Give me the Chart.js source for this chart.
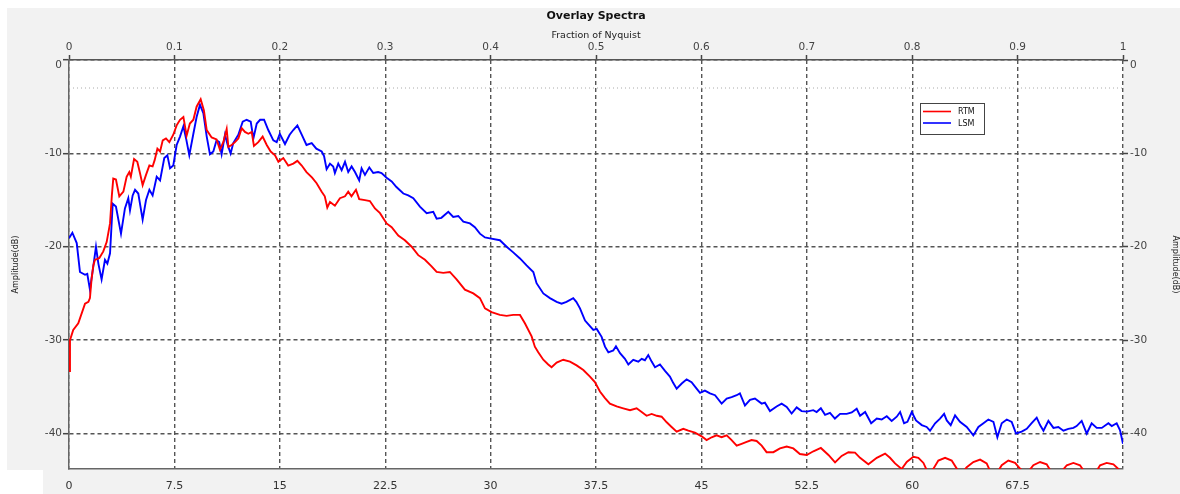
<!DOCTYPE html>
<html><head><meta charset="utf-8">
<script src="https://cdn.jsdelivr.net/npm/chart.js@4.4.1/dist/chart.umd.min.js"></script>
<style>html,body{margin:0;padding:0;background:#fff;}canvas{display:block;}</style>
</head><body>
<canvas id="c" width="1180" height="494"></canvas>
<script>
const chartTitle = 'Overlay Spectra';
const topAxisTitle = 'Fraction of Nyquist';
const yAxisTitle = 'Amplitude(dB)';
const seriesNames = ['RTM', 'LSM'];
const seriesColors = ['#ff0000', '#0000ff'];
const freqRange = [0, 75];
const nyquistRange = [0, 1];
const dbRange = [-43.8, 0];
const refLevelDb = -3;
const freqTicks = [0, 7.5, 15, 22.5, 30, 37.5, 45, 52.5, 60, 67.5, 75];
const freqTickLabels = ['0', '7.5', '15', '22.5', '30', '37.5', '45', '52.5', '60', '67.5', ''];
const nyquistTicks = [0, 0.1, 0.2, 0.3, 0.4, 0.5, 0.6, 0.7, 0.8, 0.9, 1];
const nyquistTickLabels = ['0', '0.1', '0.2', '0.3', '0.4', '0.5', '0.6', '0.7', '0.8', '0.9', '1'];
const dbTicks = [-40, -30, -20, -10, 0];

// [frequency (Hz), amplitude (dB)]
const rtmSpectrum = [[0,-33.3],[0.07,-30.0],[0.3,-28.9],[0.66,-28.2],[1.14,-26.1],[1.38,-25.9],[1.49,-25.5],[1.61,-23.4],[1.73,-22.0],[1.85,-21.4],[2.02,-21.3],[2.16,-21.2],[2.44,-20.5],[2.68,-19.5],[2.92,-17.5],[3.05,-14.5],[3.15,-12.7],[3.34,-12.8],[3.58,-14.6],[3.87,-14.1],[4.1,-12.5],[4.29,-12.0],[4.4,-12.5],[4.63,-10.6],[4.86,-10.9],[5.05,-12.1],[5.24,-13.4],[5.48,-12.3],[5.72,-11.3],[5.95,-11.4],[6.1,-10.7],[6.29,-9.5],[6.48,-9.8],[6.67,-8.6],[6.9,-8.4],[7.14,-8.8],[7.42,-8.0],[7.66,-7.0],[7.9,-6.4],[8.14,-6.1],[8.37,-8.1],[8.6,-6.8],[8.85,-6.4],[9.08,-5.0],[9.37,-4.2],[9.6,-5.4],[9.8,-7.5],[10.15,-8.3],[10.5,-8.5],[10.74,-9.6],[10.98,-8.8],[11.22,-7.4],[11.34,-9.3],[11.57,-9.1],[11.81,-8.8],[12.05,-8.4],[12.29,-7.3],[12.52,-7.7],[12.76,-7.9],[13.0,-7.7],[13.16,-9.2],[13.47,-8.8],[13.78,-8.2],[14.07,-9.1],[14.35,-9.8],[14.66,-10.2],[14.9,-10.9],[15.25,-10.5],[15.6,-11.3],[15.96,-11.1],[16.25,-10.8],[16.56,-11.3],[16.9,-12.0],[17.3,-12.6],[17.62,-13.2],[17.98,-14.1],[18.2,-14.6],[18.38,-15.8],[18.57,-15.2],[18.92,-15.6],[19.28,-14.8],[19.64,-14.6],[19.87,-14.1],[20.1,-14.6],[20.42,-13.9],[20.65,-14.9],[21.06,-15.0],[21.41,-15.1],[21.77,-15.9],[22.13,-16.4],[22.6,-17.5],[22.96,-17.9],[23.43,-18.8],[23.9,-19.3],[24.38,-20.0],[24.85,-20.9],[25.33,-21.4],[25.8,-22.1],[26.16,-22.7],[26.63,-22.8],[27.1,-22.7],[27.58,-23.5],[28.17,-24.6],[28.77,-25.0],[29.24,-25.5],[29.6,-26.6],[30.07,-27.0],[30.66,-27.3],[31.14,-27.4],[31.61,-27.3],[32.09,-27.3],[32.44,-28.2],[32.92,-29.6],[33.15,-30.7],[33.39,-31.3],[33.75,-32.1],[34.1,-32.6],[34.34,-32.9],[34.7,-32.4],[35.17,-32.1],[35.65,-32.3],[36.12,-32.7],[36.6,-33.2],[37.07,-33.9],[37.42,-34.5],[37.78,-35.5],[38.14,-36.2],[38.49,-36.8],[38.97,-37.1],[39.44,-37.3],[39.92,-37.5],[40.39,-37.3],[40.75,-37.7],[41.1,-38.1],[41.46,-37.9],[41.82,-38.1],[42.17,-38.2],[42.53,-38.8],[42.88,-39.3],[43.24,-39.8],[43.71,-39.5],[44.07,-39.7],[44.54,-39.9],[45.02,-40.3],[45.37,-40.7],[45.73,-40.4],[46.08,-40.2],[46.44,-40.4],[46.8,-40.2],[47.15,-40.7],[47.51,-41.3],[47.86,-41.1],[48.22,-40.9],[48.57,-40.7],[48.93,-40.8],[49.29,-41.3],[49.64,-42.0],[50.12,-42.0],[50.59,-41.6],[51.07,-41.4],[51.54,-41.6],[52.01,-42.2],[52.49,-42.3],[52.97,-41.9],[53.5,-41.55],[54.04,-42.3],[54.51,-43.1],[54.98,-42.4],[55.46,-42.0],[55.93,-42.05],[56.29,-42.6],[56.88,-43.3],[57.48,-42.6],[58.07,-42.15],[58.42,-42.6],[58.78,-43.2],[59.25,-43.8],[59.61,-43.05],[60.08,-42.5],[60.44,-42.6],[60.8,-43.15],[61.15,-44.3],[61.51,-43.76],[61.86,-42.9],[62.34,-42.6],[62.81,-42.9],[63.17,-43.76],[63.52,-44.3],[63.88,-43.6],[64.35,-43.05],[64.83,-42.8],[65.3,-43.2],[65.6,-44.2],[66.0,-44.3],[66.37,-43.4],[66.84,-42.9],[67.32,-43.15],[67.67,-43.76],[68.15,-44.3],[68.62,-43.4],[69.1,-43.05],[69.57,-43.3],[69.93,-44.2],[70.5,-44.3],[71.0,-43.4],[71.47,-43.15],[71.94,-43.4],[72.3,-44.2],[73.0,-44.3],[73.37,-43.4],[73.84,-43.15],[74.32,-43.3],[74.67,-43.8],[75.0,-44.2]];

const lsmSpectrum = [[0,-19.1],[0.24,-18.5],[0.55,-19.6],[0.78,-22.7],[1.14,-23.0],[1.3,-22.9],[1.49,-24.6],[1.73,-22.1],[1.92,-20.0],[2.09,-21.8],[2.32,-23.5],[2.56,-21.4],[2.73,-21.8],[2.92,-20.7],[3.11,-15.4],[3.34,-15.7],[3.7,-18.6],[3.98,-15.9],[4.22,-14.8],[4.34,-16.1],[4.53,-14.5],[4.7,-13.9],[4.93,-14.3],[5.24,-17.1],[5.48,-15.0],[5.72,-13.9],[5.95,-14.5],[6.24,-12.5],[6.48,-12.9],[6.78,-10.5],[7.0,-10.2],[7.19,-11.6],[7.42,-11.3],[7.66,-9.1],[7.9,-8.2],[8.14,-7.1],[8.33,-8.4],[8.56,-10.2],[8.85,-7.9],[9.08,-6.1],[9.32,-4.8],[9.56,-5.7],[9.8,-8.2],[10.03,-10.1],[10.27,-9.8],[10.5,-8.6],[10.69,-8.8],[10.86,-10.1],[11.1,-8.0],[11.29,-9.1],[11.5,-10.0],[11.69,-8.9],[12.05,-8.0],[12.36,-6.6],[12.64,-6.4],[12.93,-6.6],[13.12,-8.4],[13.36,-6.8],[13.6,-6.4],[13.88,-6.4],[14.18,-7.5],[14.54,-8.6],[14.78,-8.8],[15.0,-7.9],[15.37,-9.0],[15.7,-8.0],[15.96,-7.5],[16.25,-7.0],[16.56,-8.0],[16.9,-9.1],[17.27,-8.9],[17.6,-9.5],[17.98,-9.8],[18.15,-10.3],[18.33,-11.7],[18.57,-11.1],[18.8,-11.4],[18.92,-12.1],[19.16,-11.1],[19.4,-11.8],[19.64,-10.9],[19.87,-12.0],[20.11,-11.4],[20.35,-12.0],[20.65,-12.9],[20.82,-11.6],[21.06,-12.3],[21.37,-11.5],[21.65,-12.1],[22.0,-12.0],[22.24,-12.1],[22.6,-12.6],[22.96,-13.0],[23.3,-13.6],[23.79,-14.3],[24.14,-14.5],[24.5,-14.8],[24.97,-15.7],[25.45,-16.4],[25.92,-16.25],[26.16,-17.0],[26.5,-16.9],[26.99,-16.25],[27.34,-16.8],[27.7,-16.7],[28.06,-17.3],[28.53,-17.5],[28.88,-17.9],[29.24,-18.6],[29.6,-19.0],[29.95,-19.1],[30.66,-19.3],[31.14,-20.0],[31.61,-20.6],[32.09,-21.25],[32.56,-22.0],[33.04,-22.7],[33.27,-23.9],[33.75,-25.0],[34.22,-25.5],[34.7,-25.9],[35.05,-26.1],[35.4,-25.9],[35.88,-25.5],[36.1,-25.9],[36.36,-26.6],[36.72,-27.9],[37.07,-28.5],[37.31,-28.9],[37.55,-28.8],[37.9,-29.65],[38.14,-30.7],[38.38,-31.3],[38.73,-31.1],[38.92,-30.65],[39.21,-31.4],[39.56,-32.0],[39.8,-32.6],[40.15,-32.1],[40.51,-32.3],[40.75,-32.0],[40.98,-32.15],[41.22,-31.6],[41.46,-32.3],[41.7,-32.9],[42.05,-32.6],[42.41,-33.3],[42.76,-33.9],[43.0,-34.6],[43.24,-35.2],[43.6,-34.65],[43.95,-34.2],[44.3,-34.5],[44.66,-35.2],[44.9,-35.65],[45.25,-35.4],[45.61,-35.7],[45.97,-35.9],[46.44,-36.8],[46.8,-36.26],[47.15,-36.1],[47.51,-35.9],[47.74,-35.7],[48.1,-37.0],[48.46,-36.4],[48.81,-36.26],[49.29,-36.8],[49.52,-36.7],[49.88,-37.6],[50.35,-37.1],[50.71,-36.8],[51.07,-37.15],[51.42,-37.86],[51.78,-37.2],[52.13,-37.6],[52.5,-37.65],[52.96,-37.5],[53.2,-37.7],[53.5,-37.3],[53.8,-38.0],[54.15,-37.8],[54.5,-38.4],[54.87,-37.9],[55.34,-37.9],[55.7,-37.75],[56.05,-37.35],[56.29,-38.1],[56.65,-37.7],[57.08,-38.9],[57.48,-38.4],[57.83,-38.5],[58.19,-38.15],[58.54,-38.65],[58.9,-38.2],[59.14,-37.7],[59.42,-38.9],[59.66,-38.75],[59.97,-37.7],[60.27,-38.6],[60.68,-39.1],[61.03,-39.3],[61.27,-39.7],[61.63,-38.9],[61.98,-38.4],[62.27,-37.9],[62.46,-38.6],[62.74,-39.1],[63.05,-38.05],[63.4,-38.75],[63.88,-39.3],[64.35,-40.2],[64.71,-39.3],[65.07,-38.9],[65.42,-38.5],[65.78,-38.75],[66.06,-40.4],[66.37,-38.9],[66.73,-38.5],[67.08,-38.75],[67.39,-40.0],[67.79,-39.8],[68.15,-39.5],[68.5,-38.9],[68.86,-38.3],[69.1,-39.1],[69.34,-39.7],[69.69,-38.65],[70.05,-39.4],[70.4,-39.3],[70.76,-39.7],[71.11,-39.5],[71.47,-39.4],[71.7,-39.2],[72.06,-38.65],[72.42,-40.0],[72.77,-38.9],[73.13,-39.4],[73.49,-39.4],[73.96,-38.9],[74.2,-39.2],[74.55,-38.9],[74.79,-39.65],[75.0,-41.1]];

const FONT = 'DejaVu Sans';
Chart.defaults.font.family = FONT;

const toPoints = arr => arr.map(([f, d]) => ({x: f, y: d}));

const backgroundPlugin = {
  id: 'bg',
  beforeDraw(chart) {
    const {ctx, width, height, chartArea: a} = chart;
    ctx.save();
    ctx.fillStyle = '#ffffff';
    ctx.fillRect(0, 0, width, height);
    ctx.fillStyle = '#f2f2f2';
    ctx.fillRect(7, 8, width - 7, a.bottom + 1 - 8);
    ctx.fillRect(43, a.bottom + 1, width - 43, height - a.bottom - 1);
    ctx.fillStyle = '#ffffff';
    ctx.fillRect(a.left, a.top, a.right - a.left, a.bottom - a.top);
    ctx.restore();
  }
};

const titleLegendPlugin = {
  id: 'titleLegend',
  afterDraw(chart) {
    const {ctx, chartArea: a} = chart;
    ctx.save();
    ctx.fillStyle = '#111';
    ctx.font = 'bold 11px "' + FONT + '"';
    ctx.textAlign = 'center';
    ctx.textBaseline = 'middle';
    ctx.fillText(chartTitle, (a.left + a.right) / 2, 16);
    // legend box
    const bx = a.right - 203, by = a.top + 43, bw = 64, bh = 31;
    ctx.fillStyle = '#ffffff';
    ctx.fillRect(bx, by, bw, bh);
    ctx.strokeStyle = '#444';
    ctx.lineWidth = 1;
    ctx.strokeRect(bx + 0.5, by + 0.5, bw, bh);
    ctx.font = '8px "' + FONT + '"';
    ctx.textAlign = 'left';
    seriesNames.forEach((name, i) => {
      const y = by + 8.5 + i * 11.5;
      ctx.strokeStyle = seriesColors[i];
      ctx.lineWidth = 1.6;
      ctx.beginPath();
      ctx.moveTo(bx + 3, y);
      ctx.lineTo(bx + 31, y);
      ctx.stroke();
      ctx.fillStyle = '#111';
      ctx.fillText(name, bx + 38, y + 0.5);
    });
    ctx.restore();
  }
};

const setTicks = list => scale => { scale.ticks = list.map(v => ({value: v})); };
// the 0 dB label sits just below the top edge, as in the original
const dbLabel = v => (v === 0 ? ['', '0'] : String(v));

new Chart(document.getElementById('c'), {
  type: 'line',
  data: {
    datasets: [
      {label: seriesNames[0], data: toPoints(rtmSpectrum), borderColor: seriesColors[0], borderWidth: 1.9, pointRadius: 0, tension: 0, xAxisID: 'x', yAxisID: 'y'},
      {label: seriesNames[1], data: toPoints(lsmSpectrum), borderColor: seriesColors[1], borderWidth: 1.9, pointRadius: 0, tension: 0, xAxisID: 'x', yAxisID: 'y'},
      {label: 'ref', data: [{x: freqRange[0], y: refLevelDb}, {x: freqRange[1], y: refLevelDb}], borderColor: '#aaaaaa', borderWidth: 1, borderDash: [1, 3], pointRadius: 0, xAxisID: 'x', yAxisID: 'y'}
    ]
  },
  options: {
    responsive: false,
    animation: false,
    devicePixelRatio: 1,
    events: [],
    layout: {padding: 0},
    plugins: {legend: {display: false}, tooltip: {enabled: false}, title: {display: false}},
    scales: {
      x: {
        type: 'linear', position: 'bottom', min: freqRange[0], max: freqRange[1],
        afterBuildTicks: setTicks(freqTicks),
        afterFit: s => { s.height = 25; },
        ticks: {callback: (v, i) => freqTickLabels[i], font: {size: 11}, color: '#333', padding: 11, maxRotation: 0, autoSkip: false},
        grid: {color: '#555', lineWidth: 1.4, drawTicks: false},
        border: {color: '#666', width: 1.5, dash: [4, 3]}
      },
      x2: {
        type: 'linear', position: 'top', min: nyquistRange[0], max: nyquistRange[1],
        afterBuildTicks: setTicks(nyquistTicks),
        afterFit: s => { s.height = 60; },
        ticks: {callback: (v, i) => nyquistTickLabels[i], font: {size: 10.5}, color: '#444', padding: 1, maxRotation: 0, autoSkip: false},
        grid: {drawOnChartArea: false, drawTicks: true, tickLength: 5, tickColor: '#444', tickWidth: 1.5},
        border: {color: '#555', width: 1.5},
        title: {display: true, text: topAxisTitle, font: {size: 9.5, lineHeight: 1}, color: '#222', padding: {top: 31, bottom: 0}}
      },
      y: {
        type: 'linear', position: 'left', min: dbRange[0], max: dbRange[1],
        afterBuildTicks: setTicks(dbTicks),
        afterFit: s => { s.width = 69; },
        ticks: {callback: dbLabel, font: {size: 10.5, lineHeight: 1}, color: '#444', padding: 1},
        grid: {color: '#555', lineWidth: 1.4, tickLength: 6, tickColor: '#444', tickWidth: 1.5, tickBorderDash: []},
        border: {color: '#666', width: 1.5, dash: [4, 3]},
        title: {display: true, text: yAxisTitle, font: {size: 8, lineHeight: 1}, color: '#222', padding: {top: 12, bottom: 0}}
      },
      y2: {
        type: 'linear', position: 'right', min: dbRange[0], max: dbRange[1],
        afterBuildTicks: setTicks(dbTicks),
        afterFit: s => { s.width = 57; },
        ticks: {callback: dbLabel, font: {size: 10.5, lineHeight: 1}, color: '#444', padding: 2},
        grid: {drawOnChartArea: false, tickLength: 5, tickColor: '#444', tickWidth: 1.5},
        border: {display: false},
        title: {display: true, text: yAxisTitle, font: {size: 8, lineHeight: 1}, color: '#222', padding: {top: 1, bottom: 0}}
      }
    }
  },
  plugins: [backgroundPlugin, titleLegendPlugin]
});
</script>
</body></html>
